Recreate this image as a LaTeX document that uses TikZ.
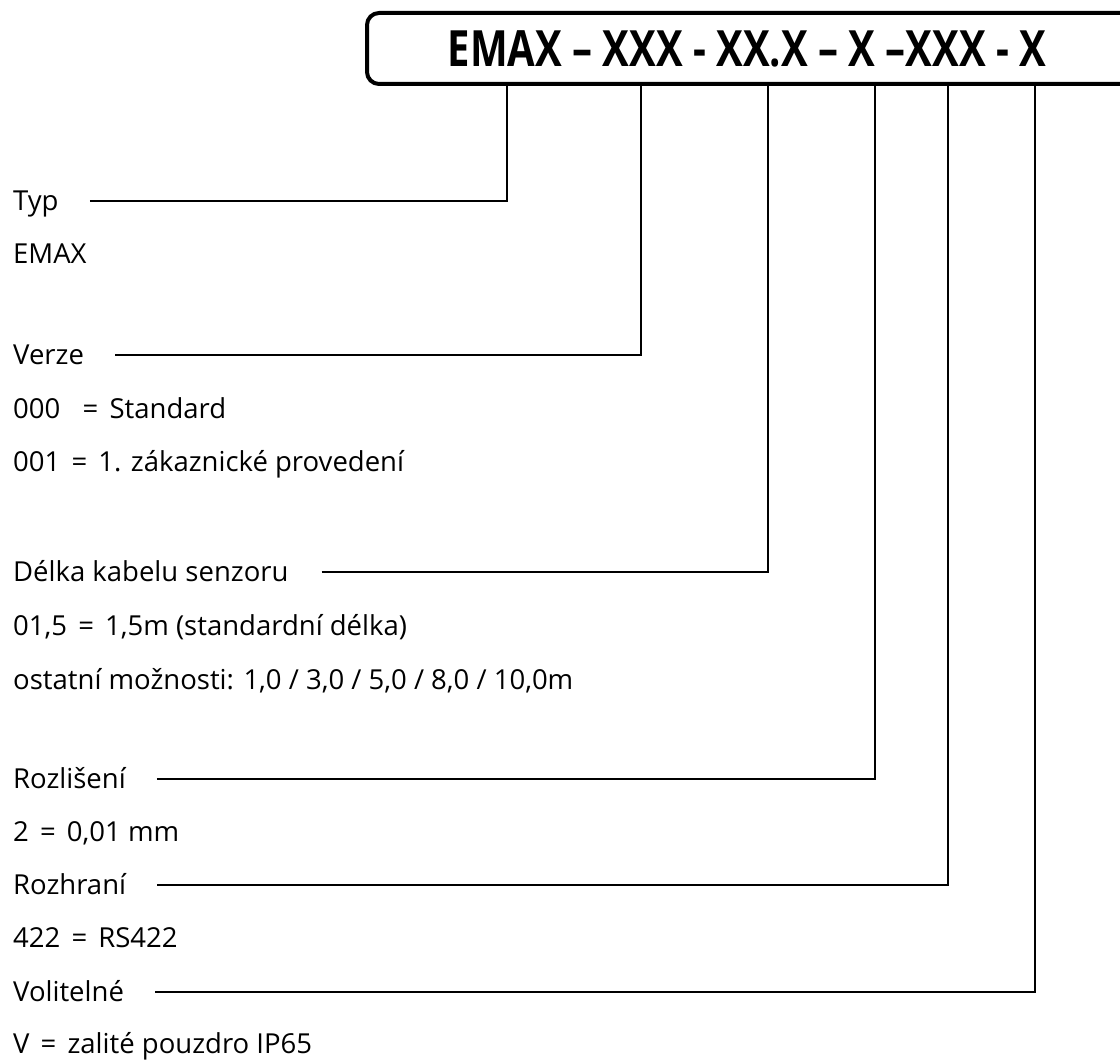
\documentclass[tikz,border=0pt]{standalone}
\usepackage{fontspec}
\setmainfont{Open Sans}
\newcommand{\Eq}{\ \kern4pt=\kern4pt\ }
\begin{document}
\begin{tikzpicture}[x=1pt,y=-1pt,
  lbl/.style={anchor=west, inner sep=0pt, font=\fontsize{27.5}{30}\selectfont, text height=19pt, text depth=0pt},
  conn/.style={line width=1.8pt},
  frame/.style={line width=4pt, rounded corners=12pt}]
\useasboundingbox (0,0) rectangle (1120,1064);
\begin{scope}
  \clip (0,0) rectangle (1120,1064);
  \draw[frame] (1150,13) -- (367,13) -- (367,84) -- (1150,84);
\end{scope}
\node (title) at (747,49) {\scalebox{0.8}[1]{\fontsize{50}{52}\selectfont\bfseries EMAX – XXX - XX.X – X –XXX - X}};
% connector tops on the frame
\coordinate (t1) at (507,85);
\coordinate (t2) at (641,85);
\coordinate (t3) at (768,85);
\coordinate (t4) at (875,85);
\coordinate (t5) at (948,85);
\coordinate (t6) at (1035,85);
% labels
\node[lbl] (typ) at (13,201) {Typ};
\node[lbl] (emax) at (13,254) {EMAX};
\node[lbl] (verze) at (13,355) {Verze};
\node[lbl] (v000) at (13,409) {000\ \kern4pt\Eq Standard};
\node[lbl] (v001) at (13,462) {001\Eq 1. zákaznické provedení};
\node[lbl] (delka) at (13,572) {Délka kabelu senzoru};
\node[lbl] (d015) at (13,626) {01,5\Eq 1,5m (standardní délka)};
\node[lbl] (dost) at (13,680) {ostatní možnosti: 1,0 / 3,0 / 5,0 / 8,0 / 10,0m};
\node[lbl] (rozl) at (13,779) {Rozlišení};
\node[lbl] (r2) at (13,832) {2\Eq 0,01 mm};
\node[lbl] (rozh) at (13,885) {Rozhraní};
\node[lbl] (r422) at (13,938) {422\Eq RS422};
\node[lbl] (vol) at (13,992) {Volitelné};
\node[lbl] (vv) at (13,1044) {V\Eq zalité pouzdro IP65};
% connectors
\draw[conn] ([xshift=31pt]typ.east) -| (t1);
\draw[conn] ([xshift=31pt]verze.east) -| (t2);
\draw[conn] ([xshift=33pt]delka.east) -| (t3);
\draw[conn] ([xshift=31pt]rozl.east) -| (t4);
\draw[conn] ([xshift=31pt]rozh.east) -| (t5);
\draw[conn] ([xshift=31pt]vol.east) -| (t6);
\end{tikzpicture}
\end{document}
